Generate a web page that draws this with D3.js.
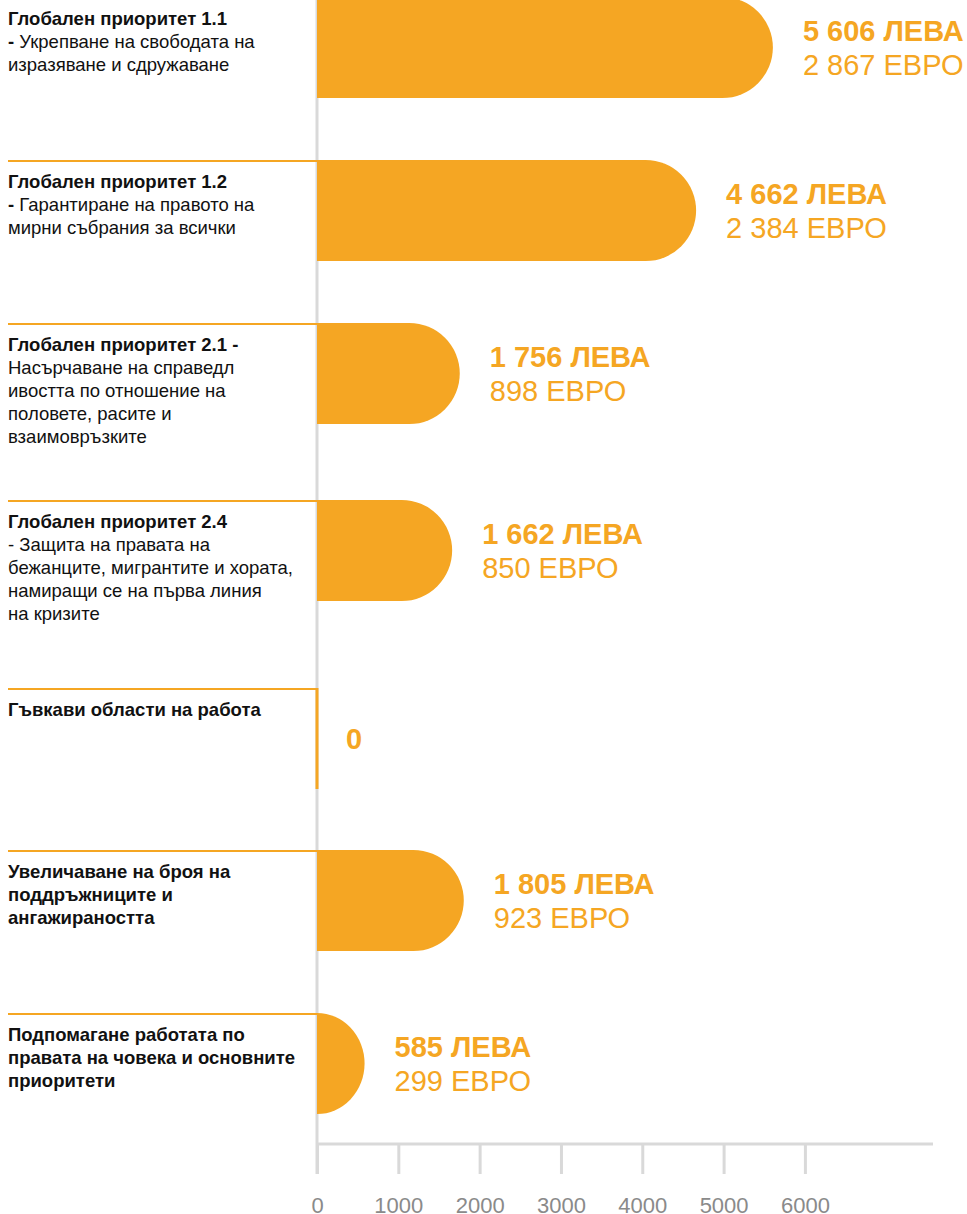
<!DOCTYPE html>
<html>
<head>
<meta charset="utf-8">
<script src="https://cdn.jsdelivr.net/npm/d3@7"></script>
<style>
  body { margin: 0; background: #fff; }
  svg { display: block; font-family: "Liberation Sans", Arial, sans-serif; }
</style>
</head>
<body>
<div id="chart"></div>
<script>
// categories (ids) and their label lines; each line is a list of [text, bold]
var categories = ["p11", "p12", "p21", "p24", "flex", "supp", "hr"];
var labels = [
  [[["Глобален приоритет 1.1", 1]], [["- ", 1], ["Укрепване на свободата на", 0]], [["изразяване и сдружаване", 0]]],
  [[["Глобален приоритет 1.2", 1]], [["- ", 1], ["Гарантиране на правото на", 0]], [["мирни събрания за всички", 0]]],
  [[["Глобален приоритет 2.1 -", 1]], [["Насърчаване на справедл", 0]], [["ивостта по отношение на", 0]], [["половете, расите и", 0]], [["взаимовръзките", 0]]],
  [[["Глобален приоритет 2.4", 1]], [["- Защита на правата на", 0]], [["бежанците, мигрантите и хората,", 0]], [["намиращи се на първа линия", 0]], [["на кризите", 0]]],
  [[["Гъвкави области на работа", 1]]],
  [[["Увеличаване на броя на", 1]], [["поддръжниците и", 1]], [["ангажираността", 1]]],
  [[["Подпомагане работата по", 1]], [["правата на човека и основните", 1]], [["приоритети", 1]]]
];
var leva = [5606, 4662, 1756, 1662, 0, 1805, 585];
var euro = [2867, 2384, 898, 850, 0, 923, 299];
var tickValues = [0, 1000, 2000, 3000, 4000, 5000, 6000];

var width = 967, height = 1214;
var orange = "#F5A623", grey = "#d9d9d9";
var font = "'Liberation Sans', Arial, sans-serif";
var barH = 101;

var svg = d3.select("#chart").append("svg")
  .attr("width", width)
  .attr("height", height)
  .attr("font-family", font);

// scales
var x = d3.scaleLinear().domain([0, 7575]).range([317, 933]);
var y = d3.scaleOrdinal().domain(categories).range([-3, 160, 323, 500, 688, 850, 1013]);

var fmt = function(v) { return d3.format(",")(v).replace(/,/g, " "); };

// vertical baseline
svg.append("line")
  .attr("x1", x(0)).attr("x2", x(0))
  .attr("y1", 0).attr("y2", 1174)
  .attr("stroke", grey).attr("stroke-width", 3);

// x axis
var axis = svg.append("g")
  .attr("transform", "translate(0,1144)")
  .call(d3.axisBottom(x).tickValues(tickValues).tickSize(30).tickFormat(d3.format("d")));
axis.attr("font-family", font);
axis.select(".domain").attr("stroke", grey).attr("stroke-width", 3)
  .attr("d", "M" + x(0) + ",0H" + x.range()[1]);
axis.selectAll(".tick line").attr("stroke", grey).attr("stroke-width", 3);
axis.selectAll(".tick text")
  .attr("y", 69)
  .attr("dy", null)
  .attr("fill", "#8a8a8a")
  .attr("font-size", 22);

var rows = svg.append("g").selectAll("g.row")
  .data(categories)
  .enter().append("g")
  .attr("class", "row");

// orange rule over each label
rows.append("line")
  .attr("x1", 8).attr("x2", x(0))
  .attr("y1", function(d) { return y(d) + 1; })
  .attr("y2", function(d) { return y(d) + 1; })
  .attr("stroke", orange).attr("stroke-width", 2);

// labels
rows.each(function(d, i) {
  var t = d3.select(this).append("text")
    .attr("font-size", 18.5)
    .attr("fill", "#111");
  labels[i].forEach(function(line, j) {
    var first = true;
    line.forEach(function(seg) {
      var ts = t.append("tspan")
        .attr("font-weight", seg[1] ? "bold" : "normal")
        .text(seg[0]);
      if (first) {
        ts.attr("x", 8).attr("y", y(d) + 27.5 + j * 23);
        first = false;
      }
    });
  });
});

// bars with rounded right end
function barPath(d, i) {
  var x0 = x(0), x1 = x(leva[i]), top = y(d), h = barH;
  var w = x1 - x0;
  var ry = h / 2, rx = Math.min(ry, w);
  return "M" + x0 + "," + top +
    "L" + (x1 - rx) + "," + top +
    "A" + rx + "," + ry + " 0 0 1 " + (x1 - rx) + "," + (top + h) +
    "L" + x0 + "," + (top + h) + "Z";
}
rows.filter(function(d, i) { return leva[i] > 0; })
  .append("path")
  .attr("d", function(d) { return barPath(d, categories.indexOf(d)); })
  .attr("fill", orange);

// zero value marker
rows.filter(function(d, i) { return leva[i] === 0; })
  .append("line")
  .attr("x1", x(0)).attr("x2", x(0))
  .attr("y1", function(d) { return y(d); })
  .attr("y2", function(d) { return y(d) + barH; })
  .attr("stroke", orange).attr("stroke-width", 3);

// value texts
rows.each(function(d, i) {
  var g = d3.select(this);
  var tx = x(leva[i]) + 30, mid = y(d) + barH / 2;
  if (leva[i] === 0) {
    g.append("text")
      .attr("x", tx - 1).attr("y", mid + 10)
      .attr("font-size", 29).attr("font-weight", "bold")
      .attr("fill", orange).text("0");
    return;
  }
  g.append("text")
    .attr("x", tx).attr("y", mid - 7)
    .attr("font-size", 29).attr("font-weight", "bold")
    .attr("fill", orange).text(fmt(leva[i]) + " ЛЕВА");
  g.append("text")
    .attr("x", tx).attr("y", mid + 27)
    .attr("font-size", 29)
    .attr("fill", orange).text(fmt(euro[i]) + " ЕВРО");
});
</script>
</body>
</html>
